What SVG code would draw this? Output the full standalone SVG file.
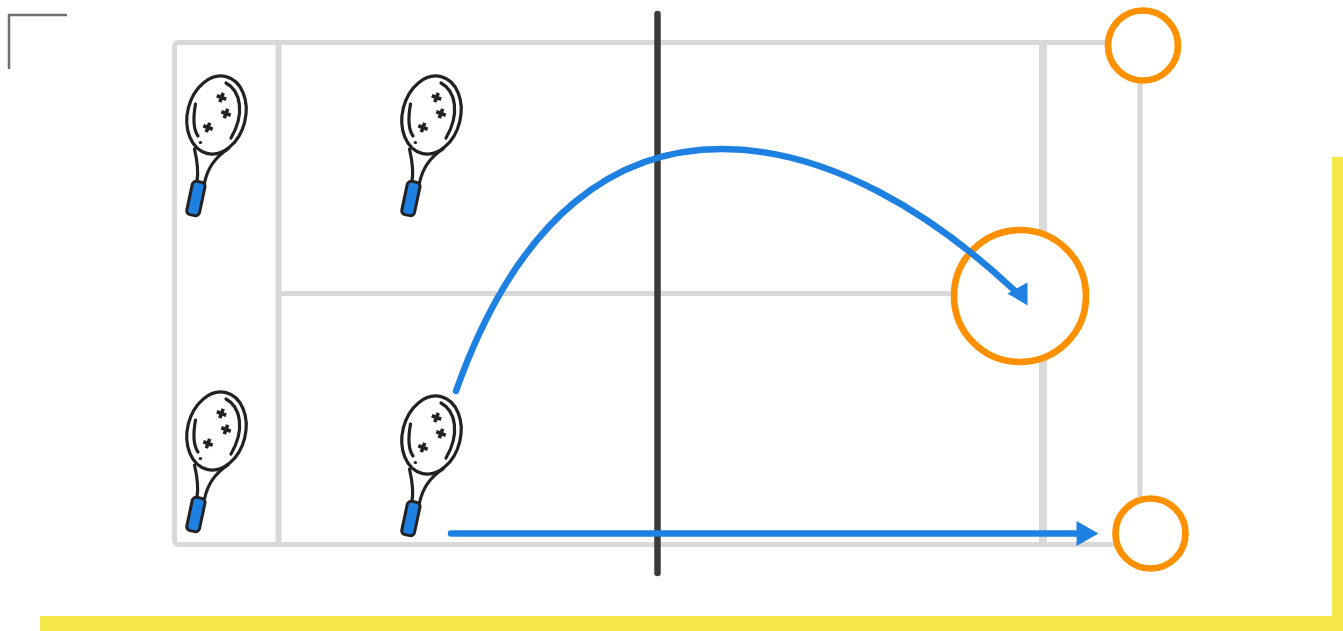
<svg xmlns="http://www.w3.org/2000/svg" xmlns:xlink="http://www.w3.org/1999/xlink" width="1343" height="631" viewBox="0 0 1343 631">
<style>
.court{fill:none;stroke:#d9d9d9;stroke-linecap:butt}
.r{fill:none;stroke:#222;stroke-width:3.200;stroke-linecap:round;stroke-linejoin:round}
.x{fill:none;stroke:#222;stroke-width:3.600;stroke-linecap:butt}
.ring{fill:#fff;stroke:#ff9100;stroke-width:6.700}
.shot{fill:none;stroke:#1e81e2;stroke-width:6.500;stroke-linecap:round}
.head{fill:#1e81e2}
</style>
<defs>
<g id="racket">
<ellipse cx="216.500" cy="115" rx="29" ry="39.500" transform="rotate(14 216.500 115)" class="r"/>
<path class="r" d="M195.500 104C193 118 193 129 198 136"/>
<path class="r" d="M226 83C241 91 245 114 231 138"/>
<path class="r" d="M200.300 142.500L200.500 142.500"/>
<path class="r" d="M194.500 149C197 160 199 170 197 181"/>
<path class="r" d="M228 149C214 158 207 170 204.500 183"/>
<rect x="189.500" y="181.500" width="13" height="34" rx="4" transform="rotate(12 196 198)" fill="#1e81e2" stroke="#222" stroke-width="3"/>
<path class="x" transform="rotate(20 221.500 97.500)" d="M221.500 92.500v10M216.500 97.500h10"/>
<path class="x" transform="rotate(20 226 113.500)" d="M226 108.500v10M221 113.500h10"/>
<path class="x" transform="rotate(20 208 127.500)" d="M208 122.500v10M203 127.500h10"/>
</g>
</defs>
<rect id="frame-bottom" x="40" y="616" width="1303" height="15" fill="#f6e84a"/>
<rect id="frame-right" x="1332" y="157" width="11" height="474" fill="#f6e84a"/>
<path id="corner" d="M9 69V15H67" fill="none" stroke="#6f6f6f" stroke-width="2.500"/>
<g id="court">
<path class="court" stroke-width="5" d="M1140.500 42.500H179Q174.500 42.500 174.500 47V540Q174.500 544.500 179 544.500H1140.500"/>
<path class="court" stroke-width="5" d="M1140 42.500V544"/>
<path class="court" stroke-width="6" d="M278.500 42.500V544"/>
<path class="court" stroke-width="8" d="M1043 42.500V544"/>
<path class="court" stroke-width="5" d="M278 293.500H1043"/>
</g>
<path id="net" d="M657.500 14V573" fill="none" stroke="#3a3a3a" stroke-width="6.500" stroke-linecap="round"/>
<g id="target-top"><circle class="ring" cx="1143" cy="45.500" r="35"/></g>
<g id="target-center"><circle class="ring" cx="1020" cy="296" r="66"/></g>
<g id="target-bottom"><circle class="ring" cx="1150.500" cy="533.500" r="35"/></g>
<g id="racket-top-left"><use xlink:href="#racket" href="#racket"/></g>
<g id="racket-top-right"><use xlink:href="#racket" href="#racket" x="215"/></g>
<g id="racket-bottom-left"><use xlink:href="#racket" href="#racket" y="316"/></g>
<g id="racket-bottom-right"><use xlink:href="#racket" href="#racket" x="215" y="320"/></g>
<g id="connectors">
<path class="shot" d="M456 391C520 210 620 149 722 149C830 149 935 216 1014 290"/>
<polygon class="head" points="1027.500,282.500 1027.500,305.500 1007.500,293.500"/>
<path class="shot" d="M451 533.500H1080"/>
<polygon class="head" points="1076.500,521 1098.500,533.500 1076.500,546"/>
</g>
</svg>
